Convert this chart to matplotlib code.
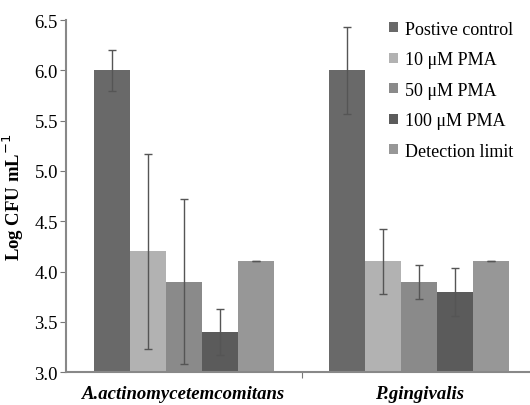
import numpy as np
import matplotlib
matplotlib.use("Agg")
import matplotlib.pyplot as plt
from matplotlib.ticker import FixedLocator

plt.rcParams['font.family'] = ['Liberation Serif', 'DejaVu Serif']

# --- Data ---
groups = ["A.actinomycetemcomitans", "P.gingivalis"]
series = ["Postive control", "10 \u03bcM PMA", "50 \u03bcM PMA", "100 \u03bcM PMA", "Detection limit"]
means = [
    [6.0, 6.0],   # positive control
    [4.2, 4.1],   # 10 uM
    [3.9, 3.9],   # 50 uM
    [3.4, 3.8],   # 100 uM
    [4.1, 4.1],   # detection limit
]
errors = [
    [0.20, 0.43],
    [0.97, 0.32],
    [0.82, 0.17],
    [0.23, 0.24],
    [0.0, 0.0],
]
colors = ["#696969", "#b2b2b2", "#8a8a8a", "#5b5b5b", "#979797"]

# --- Plotting ---
fig = plt.figure(figsize=(5.30, 4.06), dpi=100)
ax = fig.add_axes([0.125, 0.081, 0.875, 0.867])

x = np.arange(len(groups))
width = 0.153
for i, (name, vals, err, col) in enumerate(zip(series, means, errors, colors)):
    pos = x + (i - 2) * width
    ax.bar(pos, np.array(vals) - 3.0, width, bottom=3.0, color=col, label=name)
    ax.errorbar(pos, vals, yerr=err, fmt='none', ecolor="#555555",
                elinewidth=1.0, capsize=3, capthick=1.0)

ax.set_ylim(3.0, 6.5)
ax.set_xlim(-0.5, 1.47)
ax.set_yticks(np.arange(3.0, 6.51, 0.5))
ax.set_yticklabels([f"{v:.1f}" for v in np.arange(3.0, 6.51, 0.5)], fontsize=13.5)

ax.xaxis.set_major_locator(FixedLocator([0.5]))
ax.xaxis.set_major_formatter(plt.NullFormatter())
ax.set_xticks(x, minor=True)
ax.set_xticklabels(groups, minor=True, fontsize=13.5, fontweight='bold', fontstyle='italic')
ax.tick_params(axis='x', which='minor', length=0, pad=9)
ax.tick_params(axis='x', which='major', length=4, direction='out', color="#777777")
ax.tick_params(axis='y', length=4, color="#777777", pad=2)

ax.set_ylabel("Log CFU mL$^{-1}$", fontsize=13.5, fontweight='bold', labelpad=6)

for s in ["top", "right"]:
    ax.spines[s].set_visible(False)
for s in ["left", "bottom"]:
    ax.spines[s].set_color("#888888")
    ax.spines[s].set_linewidth(1.5)

ax.legend(loc="upper right", frameon=False, fontsize=13, handlelength=0.5,
          handleheight=0.5, handletextpad=0.4, labelspacing=0.75,
          bbox_to_anchor=(1.0, 1.045))

fig.savefig("out.png", dpi=100)
